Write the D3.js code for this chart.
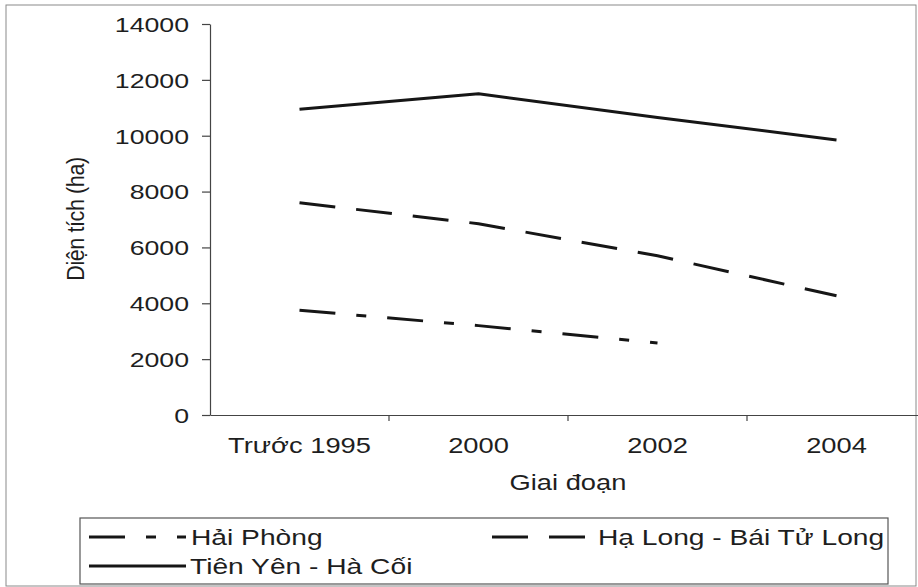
<!DOCTYPE html>
<html>
<head>
<meta charset="utf-8">
<script src="https://cdn.jsdelivr.net/npm/d3@7"></script>
<style>
  html, body { margin: 0; padding: 0; background: #fff; }
  svg { display: block; }
  text { font-family: "Liberation Sans", Arial, sans-serif; fill: #1e1e1e; }
</style>
</head>
<body>
<svg id="chart" width="918" height="587"></svg>
<script>
const categories = ["Trước 1995", "2000", "2002", "2004"];
const yTicks = [0, 2000, 4000, 6000, 8000, 10000, 12000, 14000];
const haiPhong = [3750, 3200, 2580, null];
const haLong = [7600, 6850, 5700, 4270];
const tienYen = [10950, 11500, 10650, 9850];
const seriesNames = ["Hải Phòng", "Hạ Long - Bái Tử Long", "Tiên Yên - Hà Cối"];

(function () {
const svg = d3.select("#chart");
const plotLeft = 210, plotRight = 926, plotTop = 24, plotBottom = 415;
const SX = 1.27; // horizontal stretch of the scanned text

// outer frame
svg.append("rect").attr("x", 6).attr("y", 5).attr("width", 910).attr("height", 581)
  .attr("fill", "#fff").attr("stroke", "#8a8a8a").attr("stroke-width", 1);

const x = d3.scaleBand().domain(categories).range([plotLeft, plotRight]).padding(0);
const cx = c => x(c) + x.bandwidth() / 2;
const y = d3.scaleLinear().domain([0, 14000]).range([plotBottom, plotTop]);

// y axis
const gy = svg.append("g").attr("transform", `translate(${plotLeft},0)`)
  .call(d3.axisLeft(y).tickValues(yTicks).tickFormat(d3.format("d")).tickSize(8).tickSizeOuter(0));
gy.select(".domain").attr("stroke", "#444").attr("stroke-width", 1.2);
gy.selectAll(".tick line").attr("stroke", "#444").attr("stroke-width", 1.2);
gy.selectAll(".tick text")
  .attr("font-size", 21).attr("font-family", "Liberation Sans, Arial, sans-serif")
  .attr("fill", "#1e1e1e")
  .attr("x", -21 / SX).attr("dy", "0.35em")
  .attr("transform", `scale(${SX},1)`);

// x axis (labels centered, ticks on category boundaries)
const gx = svg.append("g").attr("transform", `translate(0,${plotBottom})`)
  .call(d3.axisBottom(x).tickSize(0).tickSizeOuter(0).tickFormat(d => d));
gx.select(".domain").attr("stroke", "#444").attr("stroke-width", 1.2);
gx.selectAll(".tick text")
  .attr("font-size", 21.5).attr("font-family", "Liberation Sans, Arial, sans-serif")
  .attr("fill", "#1e1e1e")
  .attr("y", 38).attr("dy", 0)
  .attr("transform", `scale(${SX},1)`);
gx.selectAll(".boundary").data(categories.slice(1)).enter().append("line")
  .attr("class", "boundary")
  .attr("x1", d => x(d)).attr("x2", d => x(d))
  .attr("y1", 0).attr("y2", 6)
  .attr("stroke", "#444").attr("stroke-width", 1.2);

// axis titles
svg.append("text")
  .attr("transform", `translate(568,490) scale(${SX},1)`)
  .attr("text-anchor", "middle").attr("font-size", 21.5)
  .text("Giai đoạn");
svg.append("text")
  .attr("transform", `translate(84,219) rotate(-90) scale(1,1.15)`)
  .attr("text-anchor", "middle").attr("font-size", 21.5)
  .attr("letter-spacing", "-0.4")
  .text("Diện tích (ha)");

// lines
const line = d3.line()
  .defined(d => d.v !== null)
  .x(d => cx(d.c)).y(d => y(d.v));
const mk = arr => categories.map((c, i) => ({ c, v: arr[i] }));

const styles = [
  { data: haiPhong, dash: "36,21,10,21" },
  { data: haLong, dash: "36,21" },
  { data: tienYen, dash: null }
];
styles.forEach(s => {
  svg.append("path").datum(mk(s.data))
    .attr("d", line)
    .attr("fill", "none")
    .attr("stroke", "#161616")
    .attr("stroke-width", 3)
    .attr("stroke-linejoin", "round")
    .attr("stroke-dasharray", s.dash);
});

// legend
const lg = svg.append("g");
lg.append("rect").attr("x", 80).attr("y", 518).attr("width", 808).attr("height", 66)
  .attr("fill", "#fff").attr("stroke", "#555").attr("stroke-width", 1.2);
const legendItems = [
  { name: seriesNames[0], x0: 89, x1: 186, tx: 191, ty: 537, dash: styles[0].dash },
  { name: seriesNames[1], x0: 492, x1: 592, tx: 598, ty: 537, dash: styles[1].dash },
  { name: seriesNames[2], x0: 89, x1: 186, tx: 190, ty: 566, dash: styles[2].dash }
];
legendItems.forEach(it => {
  lg.append("line").attr("x1", it.x0).attr("x2", it.x1).attr("y1", it.ty).attr("y2", it.ty)
    .attr("stroke", "#161616").attr("stroke-width", 3)
    .attr("stroke-dasharray", it.dash);
  lg.append("text")
    .attr("transform", `translate(${it.tx},${it.ty}) scale(${SX},1)`)
    .attr("dy", "0.36em").attr("font-size", 22.2)
    .text(it.name);
});
})();
</script>
</body>
</html>
